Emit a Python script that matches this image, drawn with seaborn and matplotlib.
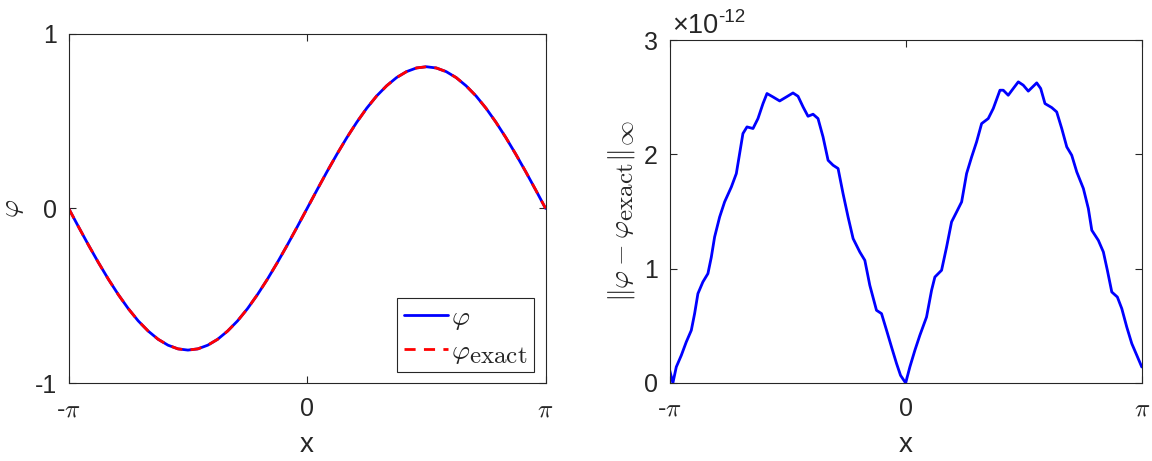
"""Solution vs exact solution, and the pointwise error."""
import matplotlib

matplotlib.use("Agg")
import matplotlib._mathtext as mathtext_impl
import matplotlib.pyplot as plt
import numpy as np
import seaborn as sns

# MATLAB's latex interpreter draws subscripts nearly full size
mathtext_impl.SHRINK_FACTOR = 0.9

x_phi = np.linspace(-np.pi, np.pi, 49)
phi = [
    0.0, -0.106, -0.210, -0.310, -0.405, -0.493, -0.573, -0.643, -0.701,
    -0.748, -0.782, -0.803, -0.810, -0.803, -0.782, -0.748, -0.701, -0.643,
    -0.573, -0.493, -0.405, -0.310, -0.210, -0.106, 0.0, 0.106, 0.210,
    0.310, 0.405, 0.493, 0.573, 0.643, 0.701, 0.748, 0.782, 0.803, 0.810,
    0.803, 0.782, 0.748, 0.701, 0.643, 0.573, 0.493, 0.405, 0.310, 0.210,
    0.106, 0.0,
]
phi_exact = list(phi)

# right panel: error (in units of 1e-12)
x_err = [
    -3.142, -3.097, -3.052, -2.985, -2.919, -2.852, -2.808, -2.764, -2.698,
    -2.631, -2.586, -2.542, -2.475, -2.409, -2.319, -2.253, -2.209, -2.165,
    -2.111, -2.031, -1.965, -1.898, -1.845, -1.765, -1.676, -1.587, -1.499,
    -1.432, -1.365, -1.299, -1.232, -1.166, -1.099, -1.032, -0.966, -0.899,
    -0.833, -0.766, -0.699, -0.610, -0.543, -0.477, -0.388, -0.321, -0.254,
    -0.188, -0.121, -0.068, 0.0, 0.056, 0.123, 0.189, 0.278, 0.345, 0.389,
    0.478, 0.545, 0.611, 0.678, 0.745, 0.811, 0.878, 0.944, 1.011, 1.099,
    1.166, 1.255, 1.299, 1.365, 1.432, 1.499, 1.565, 1.632, 1.699, 1.744,
    1.797, 1.854, 1.944, 2.010, 2.077, 2.144, 2.210, 2.277, 2.365, 2.431,
    2.477, 2.564, 2.631, 2.684, 2.743, 2.817, 2.876, 2.942, 3.009, 3.076,
    3.142,
]
err = [
    0.117, 0.0, 0.140, 0.242, 0.359, 0.461, 0.607, 0.782, 0.884,
    0.957, 1.100, 1.277, 1.452, 1.584, 1.715, 1.832, 2.007, 2.182,
    2.240, 2.226, 2.313, 2.444, 2.532, 2.502, 2.467, 2.502, 2.537,
    2.508, 2.415, 2.333, 2.351, 2.313, 2.152, 1.948, 1.905, 1.876,
    1.657, 1.452, 1.263, 1.146, 1.073, 0.855, 0.636, 0.607, 0.461,
    0.315, 0.170, 0.067, 0.0, 0.140, 0.286, 0.417, 0.577, 0.811, 0.927,
    0.986, 1.190, 1.409, 1.496, 1.584, 1.832, 1.977, 2.109, 2.269, 2.313,
    2.401, 2.561, 2.561, 2.517, 2.576, 2.634, 2.605, 2.553, 2.596, 2.625,
    2.576, 2.444, 2.409, 2.371, 2.226, 2.065, 1.992, 1.846, 1.701, 1.526,
    1.336, 1.248, 1.146, 0.986, 0.796, 0.752, 0.651, 0.490, 0.345, 0.242,
    0.140,
]

x_ticks = [-np.pi, 0, np.pi]
x_ticklabels = [r"-$\pi$", "0", r"$\pi$"]

INK = "#262626"

sns.set_style("ticks")
plt.rcParams["font.family"] = ["Liberation Sans", "DejaVu Sans"]
plt.rcParams["mathtext.fontset"] = "cm"
plt.rcParams["axes.unicode_minus"] = False
plt.rcParams["axes.edgecolor"] = INK
plt.rcParams["axes.linewidth"] = 0.8

fig = plt.figure(figsize=(11.52, 4.61), dpi=100)
ax1 = fig.add_axes([0.0596, 0.1685, 0.414, 0.7588])
ax2 = fig.add_axes([0.5812, 0.1692, 0.4099, 0.744])

# left: phi vs phi_exact
sns.lineplot(x=x_phi, y=phi, ax=ax1, color="blue", lw=2, label=r"$\varphi$")
sns.lineplot(x=x_phi, y=phi_exact, ax=ax1, color="red", lw=2,
             linestyle=(0, (4, 3)), label=r"$\varphi_{\mathrm{exact}}$")
ax1.set_xlim(-np.pi, np.pi)
ax1.set_ylim(-1, 1)
ax1.set_yticks([-1, 0, 1])
ax1.set_ylabel(r"$\varphi$", fontsize=20, color=INK, labelpad=6)
leg = ax1.legend(loc="lower right", bbox_to_anchor=(0.976, 0.031),
                 borderaxespad=0, fontsize=20, frameon=True, fancybox=False,
                 framealpha=1, edgecolor=INK, handlelength=1.6,
                 handletextpad=0.1, labelspacing=0.25, borderpad=0.25)
leg.get_frame().set_linewidth(0.8)

# right: error
sns.lineplot(x=x_err, y=err, ax=ax2, color="blue", lw=2)
ax2.set_xlim(-np.pi, np.pi)
ax2.set_ylim(0, 3)
ax2.set_yticks([0, 1, 2, 3])
ax2.set_ylabel(r"$\|\varphi - \varphi_{\mathrm{exact}}\|_{\infty}$",
               fontsize=20, color=INK, labelpad=5)
t1 = ax2.text(0.005, 1.02, "\u00d710", transform=ax2.transAxes,
              ha="left", va="baseline", fontsize=19.5, color=INK)
ax2.annotate("-12", xy=(1.0, 0.5), xycoords=t1, ha="left", va="bottom",
             fontsize=13.5, color=INK)

for ax in (ax1, ax2):
    ax.set_xticks(x_ticks)
    ax.set_xticklabels(x_ticklabels)
    ax.set_xlabel("x", fontsize=20, color=INK, labelpad=8)
    ax.tick_params(direction="in", top=True, right=True, length=5,
                   width=0.8, colors=INK, labelsize=18)
    ax.tick_params(axis="x", pad=10)
    ax.tick_params(axis="y", pad=8.5)
    for s in ax.spines.values():
        s.set_visible(True)
        s.set_color(INK)

fig.savefig("out.png", dpi=100)
